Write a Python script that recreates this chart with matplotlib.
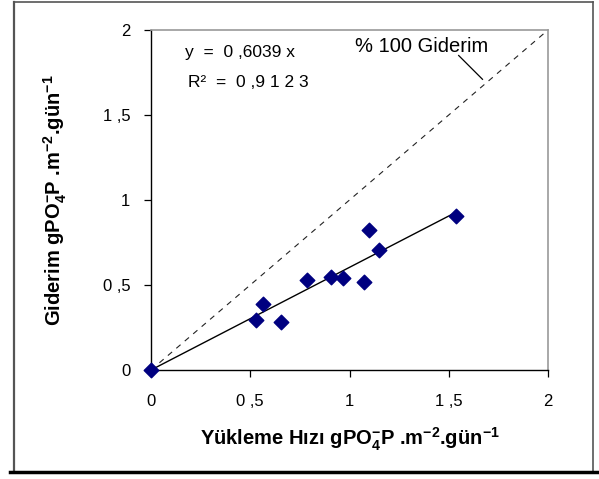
import numpy as np
import matplotlib
matplotlib.use("Agg")
import matplotlib.pyplot as plt
from matplotlib.ticker import FuncFormatter

plt.rcParams['font.family'] = ['Liberation Sans', 'DejaVu Sans']
plt.rcParams['mathtext.default'] = 'regular'

# yukleme hizi vs giderim
yukleme = [0.0, 0.53, 0.563, 0.655, 0.788, 0.908, 0.968, 1.075, 1.097, 1.147, 1.538]
giderim = [0.0, 0.294, 0.388, 0.284, 0.529, 0.549, 0.539, 0.516, 0.824, 0.706, 0.908]
egim = 0.6039
r2 = 0.9123
ticks = [0, 0.5, 1, 1.5, 2]

fig = plt.figure(figsize=(5.99, 4.79), dpi=100)

# outer frame of the pasted chart
fig.add_artist(plt.Line2D([14/599, 14/599], [1 - 2/479, 1 - 472/479], color='#555555', lw=1.6))
fig.add_artist(plt.Line2D([593/599, 593/599], [1 - 2/479, 1 - 472/479], color='#555555', lw=1.2))
fig.add_artist(plt.Line2D([14/599, 593/599], [1 - 2/479, 1 - 2/479], color='#555555', lw=1.2))
fig.add_artist(plt.Line2D([10/599, 1.0], [1 - 472/479, 1 - 472/479], color='black', lw=2.5))

ax = fig.add_axes([151/599, 1 - 370/479, 397/599, 340/479])

ax.plot([0, 2], [0, 2], ls=(0, (5, 5)), color='#222222', lw=0.8)
xx = np.array([0, max(yukleme)])
ax.plot(xx, egim * xx, color='black', lw=1.0)
ax.scatter(yukleme, giderim, marker='D', s=55, color='#000080', zorder=3, clip_on=False)

ax.set_xlim(0, 2)
ax.set_ylim(0, 2)
ax.set_xticks(ticks)
ax.set_yticks(ticks)
fmt = FuncFormatter(lambda v, p: ('%g' % v).replace('.', ' ,'))
ax.xaxis.set_major_formatter(fmt)
ax.yaxis.set_major_formatter(fmt)
ax.tick_params(direction='out', length=5, width=0.9, labelsize=12)
ax.tick_params(axis='x', pad=12)
ax.tick_params(axis='y', pad=10)

for s in ['top', 'right']:
    ax.spines[s].set_color('#999999')
    ax.spines[s].set_linewidth(1.2)
for s in ['left', 'bottom']:
    ax.spines[s].set_linewidth(1.0)

ax.text(0.171, 1.87, 'y  =  0 ,6039 x', fontsize=12.5, va='center')
ax.text(0.186, 1.694, 'R²  =  0 ,9 1 2 3', fontsize=12.5, va='center')
ax.text(1.03, 1.90, '% 100 Giderim', fontsize=14.5, va='center')
ax.plot([1.55, 1.67], [1.85, 1.71], color='black', lw=0.9)

ax.set_xlabel('Yükleme Hızı gPO$_4^{-}$P .m$^{-2}$.gün$^{-1}$', fontsize=14.5,
              fontweight='bold', labelpad=12)
ax.set_ylabel('Giderim gPO$_4^{-}$P .m$^{-2}$.gün$^{-1}$', fontsize=14.5,
              fontweight='bold', labelpad=24)

fig.savefig('out.png', dpi=100)
